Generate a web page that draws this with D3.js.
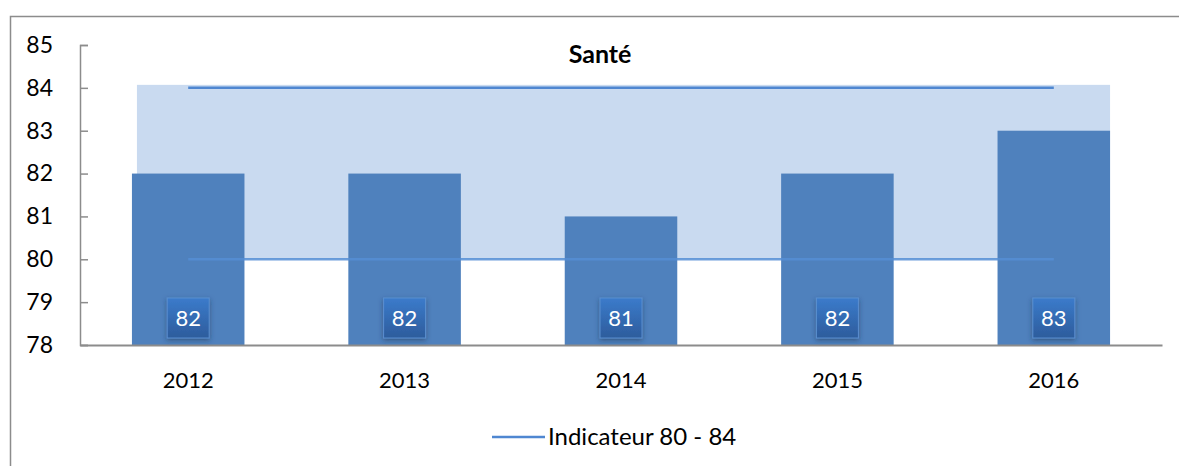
<!DOCTYPE html>
<html>
<head>
<meta charset="utf-8">
<script src="https://cdn.jsdelivr.net/npm/d3@7"></script>
<style>
  body { margin: 0; background: #fff; }
  svg text { font-family: Lato, "Open Sans", sans-serif; fill: #000; }
</style>
</head>
<body>
<svg id="chart"></svg>
<script>
// data
const years = ['2012', '2013', '2014', '2015', '2016'];
const values = [82, 82, 81, 82, 83];
const indicatorLow = [80, 80, 80, 80, 80];
const indicatorHigh = [84, 84, 84, 84, 84];
const yTicks = [78, 79, 80, 81, 82, 83, 84, 85];
const chartTitle = 'Santé';
const legendLabel = 'Indicateur 80 - 84';

const W = 1179, H = 466;
const margin = {top: 45, right: 17, bottom: 121, left: 80};
const width = W - margin.left - margin.right;
const height = H - margin.top - margin.bottom;

const svg = d3.select('#chart').attr('width', W).attr('height', H);

// outer frame (right edge runs off the picture)
svg.append('rect')
    .attr('x', 10.5).attr('y', 16.5)
    .attr('width', W + 20).attr('height', H + 20)
    .attr('fill', 'none')
    .attr('stroke', '#8c8c8c')
    .attr('stroke-width', 1.5);

const defs = svg.append('defs');
const grad = defs.append('linearGradient')
    .attr('id', 'lblGrad').attr('x1', 0).attr('y1', 0).attr('x2', 0).attr('y2', 1);
grad.append('stop').attr('offset', '0%').attr('stop-color', '#3b7bcb');
grad.append('stop').attr('offset', '100%').attr('stop-color', '#2d5c9c');
const shadow = defs.append('filter').attr('id', 'lblShadow')
    .attr('x', '-30%').attr('y', '-30%').attr('width', '160%').attr('height', '170%');
shadow.append('feDropShadow')
    .attr('dx', 0).attr('dy', 2).attr('stdDeviation', 2.5)
    .attr('flood-color', '#1d3557').attr('flood-opacity', 0.55);

const g = svg.append('g').attr('transform', `translate(${margin.left},${margin.top})`);

const x = d3.scaleBand().domain(years).range([0, width]).paddingInner(0.48).paddingOuter(0.24);
const y = d3.scaleLinear().domain([78, 85]).range([height, 0]);
const xc = d => x(d) + x.bandwidth() / 2;

// indicator band (light area between 80 and 84)
const bandData = years.map((d, i) => ({year: d, lo: indicatorLow[i], hi: indicatorHigh[i]}));
const first = years[0], last = years[years.length - 1];
g.append('rect')
    .attr('x', x(first) + 5)
    .attr('y', y(d3.max(indicatorHigh)) - 3)
    .attr('width', x(last) + x.bandwidth() - x(first) - 5)
    .attr('height', y(d3.min(indicatorLow)) - y(d3.max(indicatorHigh)) + 3)
    .attr('fill', '#c9daf0');

// indicator lines
g.append('path')
    .datum(bandData)
    .attr('d', d3.line().x(d => xc(d.year)).y(d => y(d.hi)))
    .attr('fill', 'none').attr('stroke', '#4f87d1').attr('stroke-width', 2.5);

// bars
g.selectAll('.bar')
    .data(years)
    .join('rect')
    .attr('class', 'bar')
    .attr('x', d => x(d))
    .attr('width', x.bandwidth())
    .attr('y', (d, i) => y(values[i]))
    .attr('height', (d, i) => height - y(values[i]))
    .attr('fill', '#4f81bd');

g.append('path')
    .datum(bandData)
    .attr('d', d3.line().x(d => xc(d.year)).y(d => y(d.lo)))
    .attr('fill', 'none').attr('stroke', '#558ed5').attr('stroke-width', 2.5)
    .attr('opacity', 0.85);

// axes
const yAxis = d3.axisLeft(y).tickValues(yTicks).tickSize(-8).tickPadding(27).tickFormat(d3.format('d'));
const yAxisG = g.append('g').call(yAxis);
yAxisG.select('.domain').attr('stroke', '#8c8c8c').attr('stroke-width', 1.5);
yAxisG.selectAll('.tick line').attr('stroke', '#8c8c8c').attr('stroke-width', 1.5);
yAxisG.selectAll('.tick text').style('font-size', '23px');

const xAxisG = g.append('g').attr('transform', `translate(0,${height})`)
    .call(d3.axisBottom(x).tickSize(0).tickPadding(27));
xAxisG.select('.domain').attr('stroke', '#8c8c8c').attr('stroke-width', 2);
xAxisG.selectAll('.tick text').style('font-size', '22px');

// data labels
const lbl = g.selectAll('.lbl')
    .data(years)
    .join('g')
    .attr('class', 'lbl')
    .attr('transform', d => `translate(${xc(d)},${height - 27})`);
lbl.append('rect')
    .attr('x', -21).attr('y', -20).attr('width', 42).attr('height', 40)
    .attr('fill', 'url(#lblGrad)')
    .attr('stroke', '#5b8fd0').attr('stroke-width', 1)
    .attr('filter', 'url(#lblShadow)');
lbl.append('text')
    .attr('text-anchor', 'middle')
    .attr('dy', '0.36em')
    .style('font-size', '22px')
    .style('fill', '#fff')
    .text((d, i) => values[i]);

// title
svg.append('text')
    .attr('x', 600).attr('y', 63)
    .attr('text-anchor', 'middle')
    .style('font-size', '25px').style('font-weight', 'bold')
    .text(chartTitle);

// legend
const leg = svg.append('g').attr('transform', 'translate(492,437)');
leg.append('line').attr('x1', 0).attr('x2', 53).attr('y1', 0).attr('y2', 0)
    .attr('stroke', '#4f87d1').attr('stroke-width', 2.5);
leg.append('text').attr('x', 56).attr('y', 8)
    .style('font-size', '24px')
    .text(legendLabel);
</script>
</body>
</html>
